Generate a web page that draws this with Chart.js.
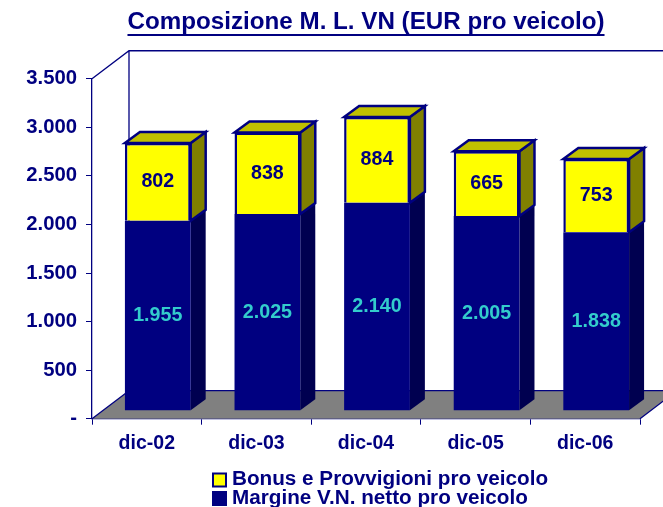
<!DOCTYPE html>
<html><head><meta charset="utf-8">
<style>html,body{margin:0;padding:0;background:#fff}canvas{display:block}</style>
<script src="https://cdn.jsdelivr.net/npm/chart.js@4"></script>
</head><body><canvas id="c" width="663" height="507"></canvas>
<script>
const categories = ['dic-02','dic-03','dic-04','dic-05','dic-06'];
const margine = [1955,2025,2140,2005,1838];
const bonus = [802,838,884,665,753];
const seriesNames = ['Margine V.N. netto pro veicolo','Bonus e Provvigioni pro veicolo'];
const titleText = 'Composizione M. L. VN (EUR pro veicolo)';
const NAVY='#000080', FONT='"Liberation Sans", Arial, sans-serif';
const fmt = v => v === 0 ? '-' : String(v).replace(/\B(?=(\d{3})+$)/g,'.');
const WALL={dx:37,dy:28}, BAR={ox:11,oy:8,dx:15,dy:11};

function poly(ctx,pts,fill,stroke,lw){
  ctx.beginPath();pts.forEach((p,i)=>i?ctx.lineTo(p[0],p[1]):ctx.moveTo(p[0],p[1]));ctx.closePath();
  if(fill){ctx.fillStyle=fill;ctx.fill();}
  if(stroke){ctx.strokeStyle=stroke;ctx.lineWidth=lw;ctx.lineJoin='miter';ctx.stroke();}
}
const scene = {
  id:'scene',
  beforeDatasetsDraw(chart){
    const {ctx,chartArea:a}=chart;
    ctx.save();
    poly(ctx,[[a.left,a.bottom],[a.right,a.bottom],[a.right+WALL.dx,a.bottom-WALL.dy],[a.left+WALL.dx,a.bottom-WALL.dy]],'#808080');
    ctx.strokeStyle=NAVY;ctx.lineWidth=1.3;
    ctx.beginPath();
    ctx.moveTo(a.left,a.top);ctx.lineTo(a.left+WALL.dx,a.top-WALL.dy);ctx.lineTo(a.right+WALL.dx,a.top-WALL.dy);
    ctx.moveTo(a.left+WALL.dx,a.top-WALL.dy);ctx.lineTo(a.left+WALL.dx,a.bottom-WALL.dy);ctx.lineTo(a.right+WALL.dx,a.bottom-WALL.dy);
    ctx.moveTo(a.left,a.bottom);ctx.lineTo(a.left+WALL.dx,a.bottom-WALL.dy);
    ctx.moveTo(a.right,a.bottom);ctx.lineTo(a.right+WALL.dx,a.bottom-WALL.dy);
    ctx.stroke();
    ctx.translate(BAR.ox,-BAR.oy);
    const m0=chart.getDatasetMeta(0).data, m1=chart.getDatasetMeta(1).data;
    m0.forEach((b0,i)=>{
      const b1=m1[i], r=b0.x+b0.width/2, l=b0.x-b0.width/2;
      poly(ctx,[[r,b0.base],[r+BAR.dx,b0.base-BAR.dy],[r+BAR.dx,b0.y-BAR.dy],[r,b0.y]],'#000050');
      poly(ctx,[[r,b1.base],[r+BAR.dx,b1.base-BAR.dy],[r+BAR.dx,b1.y-BAR.dy],[r,b1.y]],'#808000',NAVY,2.5);
      poly(ctx,[[l,b1.y],[r,b1.y],[r+BAR.dx,b1.y-BAR.dy],[l+BAR.dx,b1.y-BAR.dy]],'#C0C000',NAVY,2.5);
    });
  },
  afterDatasetsDraw(chart){
    const {ctx}=chart;
    ctx.textAlign='center';ctx.textBaseline='middle';ctx.font='bold 19.7px '+FONT;
    chart.data.datasets.forEach((ds,d)=>{
      ctx.fillStyle=d===0?'#33CCCC':NAVY;
      chart.getDatasetMeta(d).data.forEach((b,i)=>ctx.fillText(fmt(ds.data[i]),b.x,(b.y+b.base)/2));
    });
    ctx.restore();
    const w=(ctx.font='bold 24.2px '+FONT, ctx.measureText(titleText).width);
    const cx=(chart.chartArea.left+chart.chartArea.right)/2;
    ctx.strokeStyle=NAVY;ctx.lineWidth=2;ctx.beginPath();ctx.moveTo(cx-w/2,35);ctx.lineTo(cx+w/2,35);ctx.stroke();
    ctx.font='bold 20.7px '+FONT;ctx.textAlign='left';ctx.textBaseline='middle';
    const rows=[[1,479.5,'#FFFF00'],[0,498,NAVY]];
    rows.forEach(([d,y,col])=>{
      ctx.fillStyle=col;ctx.strokeStyle=NAVY;ctx.lineWidth=2;
      ctx.fillRect(213,y-6,13,13);ctx.strokeRect(213,y-6,13,13);
      ctx.fillStyle=NAVY;ctx.fillText(chart.data.datasets[d].label,232,y);
    });
  }
};
new Chart(document.getElementById('c'),{
  type:'bar',
  data:{labels:categories,datasets:[
    {label:seriesNames[0],data:margine,backgroundColor:NAVY,borderColor:NAVY,borderWidth:0,clip:false},
    {label:seriesNames[1],data:bonus,backgroundColor:'#FFFF00',borderColor:NAVY,borderWidth:2.5,clip:false}
  ]},
  options:{
    responsive:false,animation:false,
    layout:{padding:{top:0,right:23,left:0,bottom:0}},
    datasets:{bar:{categoryPercentage:1,barPercentage:0.6}},
    plugins:{
      legend:{display:false},tooltip:{enabled:false},
      title:{display:true,text:titleText,color:NAVY,fullSize:false,font:{family:FONT,size:24.2,weight:'bold',lineHeight:1.2},padding:{top:8,bottom:41.7}}
    },
    scales:{
      x:{stacked:true,offset:true,
        afterFit(s){s.height=88.3;},
        border:{color:NAVY,width:1.3},
        grid:{offset:true,drawOnChartArea:false,drawTicks:true,tickLength:6,color:NAVY},
        ticks:{color:NAVY,font:{family:FONT,size:19.5,weight:'bold'},maxRotation:0,autoSkip:false,padding:7}},
      y:{stacked:true,min:0,max:3500,
        afterFit(s){s.width=92;},
        border:{color:NAVY,width:1.3},
        grid:{drawOnChartArea:false,drawTicks:true,tickLength:6,color:NAVY},
        ticks:{stepSize:500,color:NAVY,font:{family:FONT,size:20.3,weight:'bold'},padding:9,callback:v=>fmt(v)}}
    }
  },
  plugins:[scene]
});
</script></body></html>
